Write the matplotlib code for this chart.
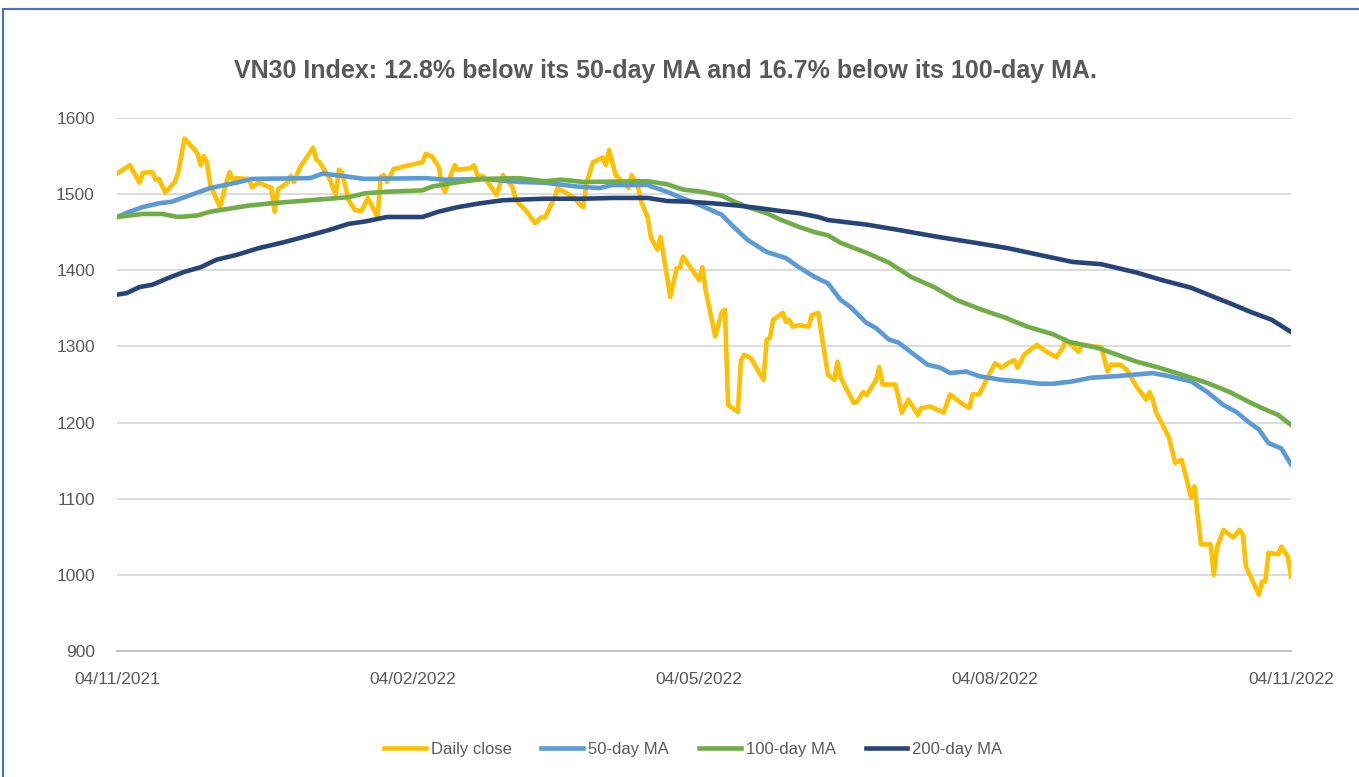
import matplotlib
matplotlib.use("Agg")
import matplotlib.pyplot as plt
import matplotlib.dates as mdates
from matplotlib.patches import Rectangle
import pandas as pd

START = pd.Timestamp("2021-11-04")

# days after 04/11/2021 and index level
close_days = [0, 4, 7, 8, 11, 12, 13, 15, 18, 19,
              21, 25, 26, 27, 28, 29, 32, 34, 35, 36,
              37, 41, 42, 44, 48, 49, 50, 53, 54, 55,
              57, 61, 62, 63, 66, 68, 69, 70, 72, 74,
              76, 78, 81, 82, 83, 84, 86, 95, 96, 98,
              100, 101, 102, 104, 105, 106, 110, 111, 112, 114,
              118, 120, 123, 124, 127, 130, 132, 133, 136, 137,
              139, 142, 144, 145, 146, 148, 151, 152, 153, 155,
              156, 159, 160, 162, 163, 165, 166, 168, 169, 172,
              174, 175, 176, 181, 182, 183, 186, 188, 189, 190,
              193, 194, 195, 197, 201, 202, 203, 204, 207, 208,
              209, 210, 212, 215, 216, 218, 221, 223, 224, 225,
              229, 230, 232, 233, 236, 237, 238, 242, 244, 246,
              249, 250, 253, 257, 259, 262, 265, 266, 268, 273,
              275, 277, 279, 280, 282, 286, 289, 292, 294, 295,
              299, 300, 306, 308, 309, 312, 314, 317, 320, 321,
              322, 323, 327, 329, 331, 334, 335, 337, 340, 341,
              342, 344, 347, 349, 350, 351, 355, 356, 357, 358,
              361, 362, 364, 365]
close_vals = [1527, 1538, 1515, 1528, 1529, 1519, 1520, 1502, 1516, 1528,
              1573, 1554, 1538, 1550, 1541, 1512, 1483, 1515, 1529, 1519,
              1521, 1520, 1509, 1515, 1508, 1477, 1506, 1515, 1524, 1516,
              1536, 1561, 1545, 1542, 1521, 1499, 1532, 1528, 1492, 1479,
              1478, 1495, 1470, 1523, 1525, 1516, 1533, 1542, 1553, 1549,
              1536, 1512, 1503, 1528, 1538, 1532, 1534, 1538, 1525, 1523,
              1499, 1525, 1509, 1492, 1479, 1462, 1470, 1469, 1495, 1508,
              1503, 1496, 1486, 1483, 1515, 1542, 1548, 1538, 1558, 1525,
              1521, 1508, 1525, 1509, 1490, 1469, 1443, 1427, 1444, 1365,
              1403, 1403, 1418, 1387, 1404, 1374, 1313, 1345, 1348, 1223,
              1214, 1282, 1289, 1285, 1256, 1309, 1311, 1335, 1344, 1332,
              1335, 1326, 1328, 1326, 1341, 1344, 1263, 1256, 1280, 1259,
              1226, 1227, 1240, 1236, 1256, 1273, 1250, 1250, 1213, 1230,
              1210, 1219, 1221, 1213, 1237, 1227, 1219, 1237, 1237, 1278,
              1272, 1278, 1282, 1272, 1289, 1302, 1293, 1286, 1298, 1309,
              1293, 1302, 1299, 1267, 1276, 1276, 1269, 1247, 1230, 1240,
              1230, 1214, 1181, 1147, 1151, 1101, 1116, 1040, 1040, 1000,
              1036, 1059, 1049, 1059, 1053, 1011, 974, 991, 991, 1029,
              1027, 1037, 1024, 998]

ma50_days = [0, 4, 8, 13, 17, 23, 29, 37, 42, 60,
             64, 70, 77, 96, 102, 114, 125, 133, 143, 150,
             154, 165, 171, 175, 181, 188, 191, 196, 202, 208,
             212, 217, 221, 225, 228, 233, 236, 240, 243, 247,
             252, 256, 259, 264, 268, 275, 281, 287, 291, 297,
             303, 311, 322, 327, 334, 339, 344, 348, 352, 355,
             358, 362, 365]
ma50_vals = [1470, 1477, 1483, 1488, 1490, 1499, 1508, 1515, 1520, 1521,
             1527, 1524, 1520, 1521, 1519, 1520, 1516, 1515, 1510, 1508,
             1512, 1512, 1503, 1496, 1486, 1473, 1460, 1440, 1424, 1416,
             1404, 1391, 1383, 1361, 1352, 1331, 1324, 1309, 1305, 1292,
             1276, 1272, 1265, 1267, 1261, 1256, 1254, 1251, 1251, 1254,
             1259, 1261, 1265, 1261, 1254, 1240, 1223, 1214, 1200, 1191,
             1173, 1166, 1145]

ma100_days = [0, 8, 14, 19, 25, 29, 35, 41, 48, 60,
              72, 77, 83, 95, 98, 105, 114, 125, 133, 138,
              145, 165, 171, 176, 182, 188, 192, 196, 202, 206,
              212, 217, 221, 225, 233, 240, 247, 254, 261, 269,
              276, 283, 291, 296, 305, 311, 317, 324, 331, 339,
              346, 352, 356, 361, 365]
ma100_vals = [1470, 1474, 1474, 1470, 1472, 1477, 1481, 1485, 1488, 1492,
              1496, 1501, 1503, 1505, 1510, 1515, 1520, 1521, 1517, 1519,
              1516, 1517, 1513, 1506, 1503, 1498, 1490, 1483, 1475, 1467,
              1457, 1450, 1446, 1436, 1423, 1410, 1391, 1378, 1361, 1348,
              1338, 1326, 1316, 1306, 1298, 1289, 1280, 1272, 1263, 1252,
              1240, 1227, 1219, 1210, 1197]

ma200_days = [0, 3, 7, 11, 16, 21, 26, 31, 37, 44,
              52, 60, 66, 72, 77, 84, 95, 100, 106, 113,
              120, 133, 145, 154, 165, 171, 178, 185, 193, 199,
              206, 212, 218, 221, 233, 243, 255, 267, 277, 287,
              297, 306, 317, 325, 334, 341, 347, 352, 359, 365]
ma200_vals = [1368, 1370, 1378, 1381, 1390, 1398, 1404, 1414, 1420, 1429,
              1437, 1446, 1453, 1461, 1464, 1470, 1470, 1477, 1483, 1488,
              1492, 1494, 1494, 1495, 1495, 1491, 1490, 1488, 1485, 1482,
              1478, 1475, 1470, 1466, 1460, 1453, 1444, 1436, 1429, 1420,
              1411, 1408, 1397, 1387, 1377, 1365, 1355, 1346, 1335, 1319]

tick_days = [0, 92, 181, 273, 365]

series = [
    ("Daily close", close_days, close_vals, "#FFC000"),
    ("50-day MA", ma50_days, ma50_vals, "#5B9BD5"),
    ("100-day MA", ma100_days, ma100_vals, "#70AD47"),
    ("200-day MA", ma200_days, ma200_vals, "#264478"),
]

GRAY = "#595959"
FONT = "Liberation Sans"

fig = plt.figure(figsize=(13.59, 7.77), dpi=100)
ax = fig.add_axes([117 / 1359, 1 - 651 / 777, (1291 - 117) / 1359, (651 - 118) / 777])

for name, days, vals, col in series:
    dates = START + pd.to_timedelta(days, unit="D")
    ax.plot(dates, vals, color=col, lw=3.3, label=name, solid_joinstyle="round")

ticks = START + pd.to_timedelta(tick_days, unit="D")
ax.set_xticks(ticks)
ax.xaxis.set_major_formatter(mdates.DateFormatter("%d/%m/%Y"))
ax.set_xlim(ticks[0], ticks[-1])
ax.set_ylim(900, 1600)
ax.set_yticks(range(900, 1601, 100))

ax.grid(axis="y", color="#d9d9d9", lw=1.3)
ax.set_axisbelow(True)
for s in ["top", "right", "left"]:
    ax.spines[s].set_visible(False)
ax.spines["bottom"].set_color("#bfbfbf")
ax.spines["bottom"].set_linewidth(1.3)
ax.tick_params(length=0, labelsize=12.5, labelcolor=GRAY)
ax.tick_params(axis="x", pad=15)
ax.tick_params(axis="y", pad=16)
for lab in ax.get_xticklabels() + ax.get_yticklabels():
    lab.set_family(FONT)

fig.text(0.49, 0.909, "VN30 Index: 12.8% below its 50-day MA and 16.7% below its 100-day MA.",
         ha="center", va="center", fontsize=18, fontweight="bold", color=GRAY, family=FONT)

leg = fig.legend(loc="center", bbox_to_anchor=(0.51, 0.035), ncol=4, frameon=False,
                 prop={"family": FONT, "size": 12}, handlelength=2.5, handletextpad=0.3,
                 columnspacing=1.8)
for t in leg.get_texts():
    t.set_color(GRAY)

# chart area border (only top and left edges fall inside the picture)
fig.patches.append(Rectangle((3 / 1359, -0.1), 1.2, 1.1 - 9 / 777, transform=fig.transFigure,
                             fill=False, edgecolor="#4472C4", lw=1.5))

fig.savefig("out.png", dpi=100, facecolor="white")
